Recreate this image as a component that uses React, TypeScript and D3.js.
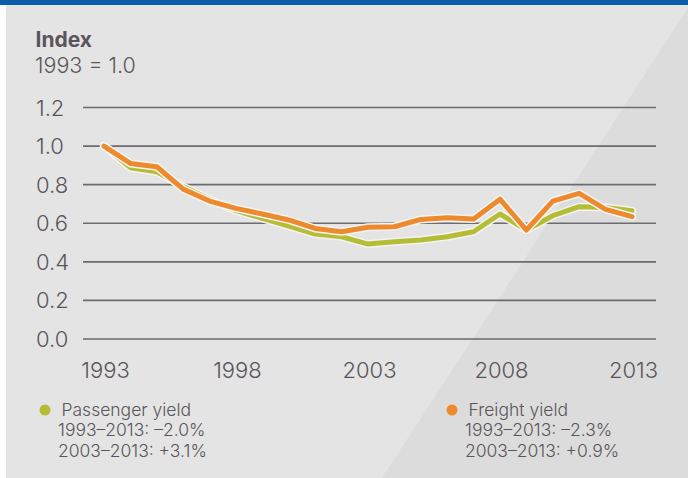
import React from "react";
import * as d3 from "d3";

const years = d3.range(1993, 2014);
const passengerYield = [1.0, 0.888, 0.867, 0.79, 0.724, 0.665, 0.625, 0.585, 0.544, 0.53, 0.492, 0.504, 0.513, 0.53, 0.556, 0.648, 0.565, 0.639, 0.686, 0.682, 0.665];
const freightYield = [1.0, 0.91, 0.893, 0.777, 0.715, 0.677, 0.648, 0.617, 0.573, 0.556, 0.579, 0.582, 0.62, 0.628, 0.622, 0.725, 0.565, 0.715, 0.755, 0.672, 0.634];
const yTicks = [0, 0.2, 0.4, 0.6, 0.8, 1.0, 1.2];
const xTicks = [1993, 1998, 2003, 2008, 2013];
const legendItems = [
  { name: "Passenger yield", lines: ["1993–2013: –2.0%", "2003–2013: +3.1%"], color: "#b4bd34" },
  { name: "Freight yield", lines: ["1993–2013: –2.3%", "2003–2013: +0.9%"], color: "#ee8a2e" },
];

const W = 688;
const H = 478;
const FONT = "Inter, 'Liberation Sans', Arial, sans-serif";
const TEXT = "#5b555b";

export default function App() {
  const x = d3.scaleLinear().domain([1993, 2013]).range([104, 632]);
  const y = d3.scaleLinear().domain([0, 1.2]).range([339, 107.5]);
  const line = d3
    .line<number>()
    .x((_, i) => x(years[i]))
    .y((d) => y(d))
    .curve(d3.curveLinear);

  const series = [
    { values: passengerYield, color: legendItems[0].color },
    { values: freightYield, color: legendItems[1].color },
  ];

  return (
    <svg
      width={W}
      height={H}
      style={{ position: "absolute", left: 0, top: 0, display: "block" }}
      fontFamily={FONT}
      fontWeight={300}
    >
      <rect x={0} y={0} width={W} height={H} fill="#ffffff" />
      <rect x={6} y={5} width={W - 6} height={H - 5} fill="#e3e4e3" />
      <path d={`M690,5 L${W},5 L${W},${H} L382,${H} Z`} fill="#dcdcdc" />
      <rect x={0} y={0} width={W} height={5} fill="#0b5ea7" />

      <text x={35.5} y={47} fontSize={21} fontWeight={700} fill={TEXT}>
        Index
      </text>
      <text x={35} y={73} fontSize={21.5} fill={TEXT}>
        1993 = 1.0
      </text>

      {yTicks.map((t) => (
        <g key={t}>
          <line x1={83} x2={656} y1={y(t)} y2={y(t)} stroke="#6e6a70" strokeWidth={1.6} />
          <text x={36} y={y(t) + 8} fontSize={22} fill={TEXT}>
            {t.toFixed(1)}
          </text>
        </g>
      ))}

      {xTicks.map((t) => (
        <text key={t} x={x(t) + 1.5} y={378} fontSize={22} textAnchor="middle" fill={TEXT}>
          {t}
        </text>
      ))}

      {series.map((s, i) => (
        <g key={"s" + i}>
          <path
            d={line(s.values) || ""}
            fill="none"
            stroke="#f4f4f4"
            strokeWidth={8}
            strokeLinejoin="round"
            strokeLinecap="round"
          />
          <path
            d={line(s.values) || ""}
            fill="none"
            stroke={s.color}
            strokeWidth={5}
            strokeLinejoin="round"
            strokeLinecap="round"
          />
        </g>
      ))}

      {legendItems.map((item, i) => {
        const lx = i === 0 ? 45 : 452;
        return (
          <g key={item.name}>
            <circle cx={lx} cy={410} r={5.5} fill={item.color} />
            <text x={lx + 16.5} y={416} fontSize={17.5} fill={TEXT}>
              {item.name}
            </text>
            {item.lines.map((l, j) => (
              <text key={l} x={lx + 13} y={436 + j * 21} fontSize={17.5} fill={TEXT}>
                {l}
              </text>
            ))}
          </g>
        );
      })}
    </svg>
  );
}
